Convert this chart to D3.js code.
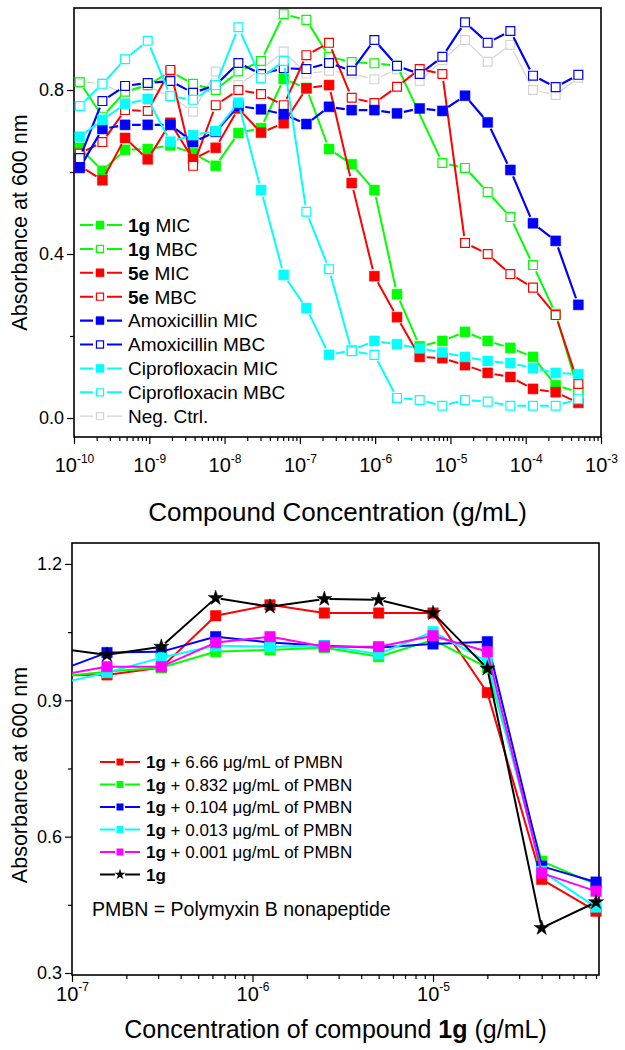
<!DOCTYPE html>
<html>
<head>
<meta charset="utf-8">
<script src="https://cdn.jsdelivr.net/npm/d3@7"></script>
<style>
  body { margin: 0; background: #fff; }
  text { font-family: "Liberation Sans", Arial, Helvetica, sans-serif; fill: #000; }
</style>
</head>
<body>
<div id="chart"></div>
<script>
// ---------- Data: top panel (g/mL, 2-fold dilutions of 500 ug/mL) ----------
const topConc = [1.192e-10, 2.384e-10, 4.768e-10, 9.537e-10, 1.907e-9, 3.815e-9, 7.629e-9,
  1.526e-8, 3.052e-8, 6.104e-8, 1.221e-7, 2.441e-7, 4.883e-7, 9.766e-7, 1.953e-6, 3.906e-6,
  7.813e-6, 1.563e-5, 3.125e-5, 6.25e-5, 1.25e-4, 2.5e-4, 5e-4];

const mic1g = [0.659, 0.603, 0.654, 0.656, 0.665, 0.646, 0.615, 0.695, 0.707, 0.827, 0.805, 0.656,
  0.619, 0.556, 0.302, 0.175, 0.188, 0.210, 0.188, 0.171, 0.149, 0.080, 0.063];
const mbc1g = [0.819, 0.735, 0.796, 0.812, 0.845, 0.815, 0.800, 0.845, 0.871, 0.985, 0.971, 0.881,
  0.868, 0.865, 0.859, null, 0.622, 0.610, 0.551, 0.490, 0.373, 0.254, 0.066];
const mic5e = [0.615, 0.580, 0.683, 0.631, 0.720, 0.631, 0.659, 0.755, 0.696, 0.719, 0.804, 0.812,
  0.573, 0.346, 0.246, 0.149, 0.146, 0.129, 0.110, 0.100, 0.071, 0.063, 0.037];
const mbc5e = [0.645, 0.673, 0.751, 0.749, 0.849, 0.615, 0.763, 0.800, 0.790, 0.763, 0.885, 0.915,
  0.781, 0.768, 0.808, 0.851, 0.839, 0.427, 0.400, 0.351, 0.318, 0.251, 0.083];
const micAmox = [0.610, 0.705, 0.715, 0.715, 0.715, 0.673, 0.698, 0.761, 0.753, 0.741, 0.717, 0.759,
  0.751, 0.751, 0.743, 0.755, 0.749, 0.786, 0.721, 0.605, 0.475, 0.432, 0.276];
const mbcAmox = [0.634, 0.773, 0.810, 0.817, 0.822, 0.793, 0.812, 0.866, 0.839, 0.853, 0.851, 0.866,
  0.847, 0.922, 0.859, 0.839, 0.881, 0.965, 0.915, 0.944, 0.835, 0.807, 0.837];
const micCipro = [0.686, 0.727, 0.766, 0.778, 0.674, 0.690, 0.700, 0.769, 0.556, 0.349, 0.268, 0.154,
  0.165, 0.188, 0.180, 0.170, 0.160, 0.149, 0.139, 0.134, 0.122, 0.110, 0.107];
const mbcCipro = [0.761, 0.815, 0.875, 0.920, 0.785, 0.776, 0.812, 0.953, 0.829, 0.871, 0.503, 0.363,
  0.163, 0.154, 0.049, 0.044, 0.030, 0.044, 0.040, 0.030, 0.030, 0.030, 0.046];
const negCtrl = [0.820, 0.815, 0.790, 0.810, 0.784, 0.747, 0.845, 0.812, 0.850, 0.894, 0.840, 0.847,
  0.840, 0.826, 0.850, 0.822, 0.873, 0.922, 0.869, 0.910, 0.800, 0.788, 0.830];

const topLegendBold = ["1g", "1g", "5e", "5e", "", "", "", "", ""];
const topLegendText = [" MIC", " MBC", " MIC", " MBC", "Amoxicillin MIC", "Amoxicillin MBC",
  "Ciprofloxacin MIC", "Ciprofloxacin MBC", "Neg. Ctrl."];
const topXExponents = ["-10", "-9", "-8", "-7", "-6", "-5", "-4", "-3"];
const topYMajor = [0.0, 0.4, 0.8];
const topYMinor = [0.2, 0.6];

// ---------- Data: bottom panel (compound 1g + PMBN) ----------
const botConc = [7.8125e-8, 1.5625e-7, 3.125e-7, 6.25e-7, 1.25e-6, 2.5e-6, 5e-6, 1e-5, 2e-5, 4e-5, 8e-5];
const pmbn666 = [0.955, 0.956, 0.972, 1.086, 1.110, 1.092, 1.092, 1.092, 0.917, 0.506, 0.436];
const pmbn0832 = [0.951, 0.963, 0.972, 1.007, 1.011, 1.016, 0.996, 1.033, 0.972, 0.546, 0.495];
const pmbn0104 = [0.960, 1.005, 1.007, 1.040, 1.027, 1.020, 1.016, 1.024, 1.029, 0.535, 0.500];
const pmbn0013 = [0.934, 0.961, 0.994, 1.020, 1.018, 1.020, 1.002, 1.051, 0.985, 0.524, 0.445];
const pmbn0001 = [0.952, 0.974, 0.974, 1.027, 1.040, 1.018, 1.018, 1.042, 1.007, 0.520, 0.480];
const only1g = [1.016, 1.000, 1.018, 1.125, 1.106, 1.123, 1.121, 1.092, 0.970, 0.399, 0.456];

const botLegendText = [" + 6.66 \u03bcg/mL of PMBN", " + 0.832 \u03bcg/mL of PMBN", " + 0.104 \u03bcg/mL of PMBN",
  " + 0.013 \u03bcg/mL of PMBN", " + 0.001 \u03bcg/mL of PMBN", ""];
const botXExponents = ["-7", "-6", "-5"];
const botYMajor = [0.3, 0.6, 0.9, 1.2];
const botYMinor = [0.45, 0.75, 1.05];

// line pieces between points, cut short near each symbol (Origin style)
function gapped(points, gap) {
  let d = "";
  for (let i = 0; i < points.length - 1; i++) {
    const [x1, y1] = points[i];
    const [x2, y2] = points[i + 1];
    const len = Math.hypot(x2 - x1, y2 - y1);
    if (len <= gap * 2) continue;
    const ux = (x2 - x1) / len, uy = (y2 - y1) / len;
    d += `M${x1 + ux * gap},${y1 + uy * gap}L${x2 - ux * gap},${y2 - uy * gap}`;
  }
  return d;
}

function logAxis(g, scale, yPos, exponents, labelY, supShift) {
  const decades = exponents.map((e) => Math.pow(10, +e));
  const minors = scale.ticks().filter((t) => !decades.some((d) => Math.abs(t / d - 1) < 1e-6));
  const major = g.append("g").attr("transform", `translate(0,${yPos})`)
    .call(d3.axisBottom(scale).tickValues(decades).tickSize(7).tickSizeOuter(0).tickFormat(""));
  g.append("g").attr("transform", `translate(0,${yPos})`)
    .call(d3.axisBottom(scale).tickValues(minors).tickSize(4).tickSizeOuter(0).tickFormat(""));
  g.selectAll(".domain").remove();
  major.selectAll(".tick text").remove();
  major.selectAll(".tick").append("text")
    .attr("y", labelY)
    .attr("text-anchor", "middle")
    .style("font-size", "20px")
    .each(function (d, i) {
      const t = d3.select(this);
      t.append("tspan").text("10");
      t.append("tspan").attr("dy", supShift).style("font-size", "12px").text(exponents[i]);
    });
  g.selectAll(".tick line").attr("stroke-width", 1.2);
}

function linAxis(g, scale, xPos, major, minor) {
  g.append("g").attr("transform", `translate(${xPos},0)`)
    .call(d3.axisLeft(scale).tickValues(major).tickSize(7).tickPadding(3).tickFormat(d3.format(".1f")))
    .selectAll("text").style("font-size", "18px");
  g.append("g").attr("transform", `translate(${xPos},0)`)
    .call(d3.axisLeft(scale).tickValues(minor).tickSize(4).tickFormat(""));
  g.selectAll(".domain").remove();
  g.selectAll(".tick line").attr("stroke-width", 1.2);
}

function draw() {
  const svg = d3.select("#chart").append("svg").attr("width", 625).attr("height", 1050);

  // ================= Top panel =================
  const p1 = { left: 74, right: 601, top: 8, bottom: 437 };
  const x1 = d3.scaleLog().domain([1e-10, 1e-3]).range([p1.left, p1.right]);
  const y1 = d3.scaleLinear().domain([-0.0463, 1.0]).range([p1.bottom, p1.top]);
  const g1 = svg.append("g");

  logAxis(g1.append("g"), x1, p1.bottom, topXExponents, 35, -9);
  linAxis(g1.append("g"), y1, p1.left, topYMajor, topYMinor);

  g1.append("rect")
    .attr("x", p1.left).attr("y", p1.top)
    .attr("width", p1.right - p1.left).attr("height", p1.bottom - p1.top)
    .attr("fill", "none").attr("stroke", "#000").attr("stroke-width", 1.6);

  const topSeries = [
    { values: mic1g, color: "#00ff00", filled: true, width: 2 },
    { values: mbc1g, color: "#00ff00", filled: false, width: 2 },
    { values: mic5e, color: "#ff0000", filled: true, width: 2 },
    { values: mbc5e, color: "#ff0000", filled: false, width: 2 },
    { values: micAmox, color: "#0000ff", filled: true, width: 2.2 },
    { values: mbcAmox, color: "#0000ff", filled: false, width: 2.2 },
    { values: micCipro, color: "#00ffff", filled: true, width: 2 },
    { values: mbcCipro, color: "#00ffff", filled: false, width: 2 },
    { values: negCtrl, color: "#d3d3d3", filled: false, width: 1.2 },
  ];
  const drawOrder1 = [8, 0, 1, 2, 3, 4, 5, 6, 7];

  const sq = d3.symbol().type(d3.symbolSquare);

  drawOrder1.forEach((i) => {
    const s = topSeries[i];
    const pts = topConc
      .map((c, k) => ({ c, v: s.values[k] }))
      .filter((d) => d.v !== null)
      .map((d) => [x1(d.c), y1(d.v)]);
    g1.append("path")
      .attr("d", gapped(pts, 7))
      .attr("fill", "none")
      .attr("stroke", s.color)
      .attr("stroke-width", s.width);
    g1.append("g").selectAll("path")
      .data(pts)
      .join("path")
      .attr("transform", (d) => `translate(${d[0]},${d[1]})`)
      .attr("d", sq.size(s.filled ? 100 : 78)())
      .attr("fill", s.filled ? s.color : "#fff")
      .attr("stroke", s.color)
      .attr("stroke-width", s.filled ? 0.5 : 1.2);
  });

  // legend
  const leg1 = g1.append("g");
  topSeries.forEach((s, i) => {
    const ly = 225 + i * 23.9;
    const row = leg1.append("g").attr("transform", `translate(0,${ly})`);
    row.append("path").attr("d", "M80,0L93,0M107,0L122,0")
      .attr("stroke", s.color).attr("stroke-width", s.width);
    row.append("path").attr("transform", "translate(100,0)")
      .attr("d", sq.size(s.filled ? 64 : 50)())
      .attr("fill", s.filled ? s.color : "#fff")
      .attr("stroke", s.color).attr("stroke-width", s.filled ? 0.5 : 1.2);
    const t = row.append("text").attr("x", 128).attr("y", 6.8).style("font-size", "19px");
    if (topLegendBold[i]) t.append("tspan").style("font-weight", "bold").text(topLegendBold[i]);
    t.append("tspan").text(topLegendText[i]);
  });

  g1.append("text")
    .attr("transform", `translate(27,${(p1.top + p1.bottom) / 2}) rotate(-90)`)
    .attr("text-anchor", "middle")
    .style("font-size", "21.5px")
    .text("Absorbance at 600 nm");
  g1.append("text")
    .attr("x", (p1.left + p1.right) / 2).attr("y", 521)
    .attr("text-anchor", "middle")
    .style("font-size", "26px")
    .text("Compound Concentration (g/mL)");

  // ================= Bottom panel =================
  const p2 = { left: 72, right: 599, top: 543, bottom: 975 };
  const x2 = d3.scaleLog().domain([1e-7, 8.31e-5]).range([p2.left, p2.right]);
  const y2 = d3.scaleLinear().domain([0.2956, 1.2461]).range([p2.bottom, p2.top]);
  const g2 = svg.append("g");

  logAxis(g2.append("g"), x2, p2.bottom, botXExponents, 26, -10);
  linAxis(g2.append("g"), y2, p2.left, botYMajor, botYMinor);

  g2.append("rect")
    .attr("x", p2.left).attr("y", p2.top)
    .attr("width", p2.right - p2.left).attr("height", p2.bottom - p2.top)
    .attr("fill", "none").attr("stroke", "#000").attr("stroke-width", 1.6);

  svg.append("clipPath").attr("id", "clip2")
    .append("rect")
    .attr("x", p2.left).attr("y", p2.top)
    .attr("width", p2.right - p2.left).attr("height", p2.bottom - p2.top);

  const botSeries = [
    { values: pmbn666, color: "#ff0000", star: false },
    { values: pmbn0832, color: "#00ff00", star: false },
    { values: pmbn0104, color: "#0000ff", star: false },
    { values: pmbn0013, color: "#00ffff", star: false },
    { values: pmbn0001, color: "#ff00ff", star: false },
    { values: only1g, color: "#000000", star: true },
  ];
  const star = d3.symbol().type(d3.symbolStar);

  botSeries.forEach((s) => {
    const pts = botConc.map((c, k) => [x2(c), y2(s.values[k])]);
    g2.append("path")
      .attr("clip-path", "url(#clip2)")
      .attr("d", gapped(pts, 5))
      .attr("fill", "none")
      .attr("stroke", s.color)
      .attr("stroke-width", 2);
    g2.append("g").selectAll("path")
      .data(pts.filter((d) => d[0] >= p2.left))
      .join("path")
      .attr("transform", (d) => `translate(${d[0]},${d[1]})`)
      .attr("d", s.star ? star.size(70)() : sq.size(110)())
      .attr("fill", s.color)
      .attr("stroke", s.color)
      .attr("stroke-width", 0.5);
  });

  const leg2 = g2.append("g");
  botSeries.forEach((s, i) => {
    const ly = 762 + i * 22.5;
    const row = leg2.append("g").attr("transform", `translate(0,${ly})`);
    row.append("path").attr("d", "M100,0L115,0M125,0L140,0")
      .attr("stroke", s.color).attr("stroke-width", 2);
    row.append("path").attr("transform", "translate(120,0)")
      .attr("d", s.star ? star.size(36)() : sq.size(49)())
      .attr("fill", s.color);
    const t = row.append("text").attr("x", 146).attr("y", 6.3).style("font-size", "17px");
    t.append("tspan").style("font-weight", "bold").text("1g");
    t.append("tspan").text(botLegendText[i]);
  });

  g2.append("text")
    .attr("x", 92).attr("y", 916)
    .style("font-size", "19.5px")
    .text("PMBN = Polymyxin B nonapeptide");

  g2.append("text")
    .attr("transform", `translate(27,775) rotate(-90)`)
    .attr("text-anchor", "middle")
    .style("font-size", "21.5px")
    .text("Absorbance at 600 nm");

  const xt = g2.append("text")
    .attr("x", (p2.left + p2.right) / 2).attr("y", 1038)
    .attr("text-anchor", "middle")
    .style("font-size", "25px");
  xt.append("tspan").text("Concentration of compound ");
  xt.append("tspan").style("font-weight", "bold").text("1g");
  xt.append("tspan").text(" (g/mL)");
}

draw();
</script>
</body>
</html>
